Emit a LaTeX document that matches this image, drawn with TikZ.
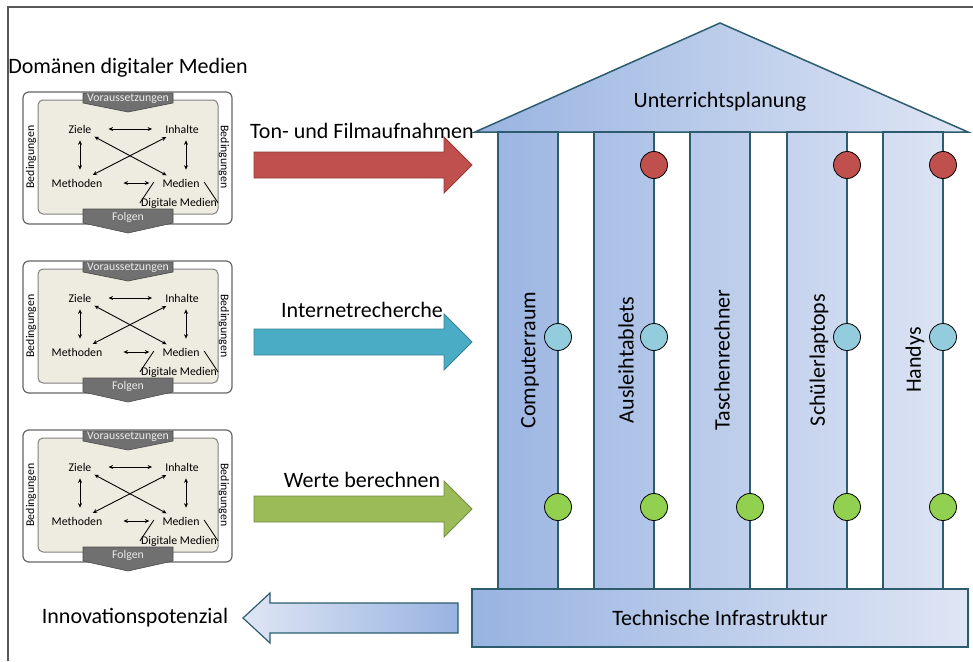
\documentclass[tikz,border=0pt]{standalone}
\usepackage{fontspec}
\setmainfont{Carlito}
\usetikzlibrary{arrows.meta, positioning, calc}
\definecolor{templeL}{RGB}{152,179,225}
\definecolor{templeR}{RGB}{223,230,244}
\definecolor{templeLine}{RGB}{45,92,110}
\definecolor{arrRed}{RGB}{192,80,77}
\definecolor{arrBlue}{RGB}{75,172,198}
\definecolor{arrGreen}{RGB}{155,187,89}
\definecolor{dotRed}{RGB}{192,80,77}
\definecolor{dotBlue}{RGB}{147,205,221}
\definecolor{dotGreen}{RGB}{146,208,80}
\definecolor{boxFill}{RGB}{238,236,225}
\definecolor{bannerGray}{RGB}{112,112,112}
\tikzstyle{rel}=[{Stealth[length=4.5pt,width=4pt]}-{Stealth[length=4.5pt,width=4pt]}, line width=0.9pt]
\tikzstyle{small}=[font=\fontsize{11.8}{14}\selectfont, inner sep=1pt]
\tikzstyle{big}=[font=\fontsize{22}{26}\selectfont]
\tikzstyle{banner}=[fill=bannerGray, draw=black!70, line width=0.6pt]
\tikzstyle{dot}=[circle, draw=black, line width=0.8pt, minimum size=27pt, inner sep=0pt]
\tikzstyle{temple}=[draw=templeLine, line width=1.5pt]
\tikzstyle{flow}=[line width=0.8pt]

\begin{document}
\begin{tikzpicture}[x=1pt, y=-1pt]
  \useasboundingbox (0,0) rectangle (973,661);
  \draw[black!65, line width=1.5pt] (8,661) -- (8,7) -- (973,7);

  % Domaenen
  \node[big] (dom) at (128,68) {Domänen digitaler Medien};
  \foreach \i/\dy in {1/0, 2/169, 3/338}{
    \begin{scope}[shift={(0,\dy)}]
      \draw[black!60, line width=1.2pt, rounded corners=6pt] (23,92) rectangle (232,224);
      \draw[black!50, fill=boxFill, line width=1pt, rounded corners=5pt] (38,100) rectangle (218,214);
      \draw[banner] (83,93) -- (173,93) -- (173,103) -- (128,112) -- (83,103) -- cycle;
      \draw[banner] (83,209) -- (173,209) -- (173,223) -- (128,233) -- (83,223) -- cycle;
      \node[small, text=white!92!black] (vor\i) at (128,99) {Voraussetzungen};
      \node[small, text=white!92!black] (fol\i) at (128,217) {Folgen};
      \node[small, rotate=90] (bedl\i) at (31,157) {Bedingungen};
      \node[small, rotate=-90] (bedr\i) at (224,157) {Bedingungen};
      \node[small] (zie\i) at (80,129) {Ziele};
      \node[small] (inh\i) at (182,129) {Inhalte};
      \node[small] (met\i) at (77,183) {Methoden};
      \node[small] (med\i) at (181,183) {Medien};
      \node[small] (dig\i) at (179,203) {Digitale Medien};
      \draw[rel, shorten <=16pt, shorten >=12pt] (zie\i) -- (inh\i);
      \draw[rel, shorten <=20pt, shorten >=12pt] (met\i) -- (med\i);
      \draw[rel, shorten <=6pt, shorten >=8pt] (zie\i.south) -- (zie\i.south |- met\i.north);
      \draw[rel, shorten <=6pt, shorten >=8pt] ([xshift=4pt]inh\i.south) -- ([xshift=4pt]inh\i.south |- med\i.north);
      \draw[rel, shorten <=5pt, shorten >=5pt] (zie\i) -- (med\i);
      \draw[rel, shorten <=6pt, shorten >=6pt] (inh\i) -- (met\i);
      \draw[line width=0.8pt] (dig\i.west) -- ++(14,-21);
      \draw[line width=0.8pt] (dig\i.east) -- ++(-14,-21);
    \end{scope}
  }

  % Pfeile
  \foreach \yc/\ly/\col/\lab [count=\k] in {165/131/arrRed/Ton- und Filmaufnahmen,
      342/310/arrBlue/Internetrecherche, 509/480/arrGreen/Werte berechnen}{
    \draw[flow, draw=\col!75!black, fill=\col] (254,\yc-13) -- (444,\yc-13) -- (444,\yc-28)
      -- (472,\yc) -- (444,\yc+28) -- (444,\yc+13) -- (254,\yc+13) -- cycle;
    \node[big] (lab\k) at (362,\ly) {\lab};
  }

  % Tempel
  \begin{scope}
    \clip (475,132) -- (720,23) -- (968,132) -- cycle
      \foreach \x in {498,594,690,787,883}{ (\x,132) rectangle ++(60,457) }
      (472,589) rectangle (968,647);
    \shade[left color=templeL, right color=templeR] (470,20) rectangle (970,650);
  \end{scope}
  \foreach \x/\lab [count=\k] in {498/Computerraum, 594/Ausleihtablets, 690/Taschenrechner,
      787/Schülerlaptops, 883/Handys}{
    \draw[temple] (\x,132) rectangle ++(60,457);
    \node[big, rotate=90] (col\k) at (\x+32,360) {\lab};
  }
  \draw[temple, line join=miter] (475,132) -- (720,23) -- (968,132) -- cycle;
  \node[big] (plan) at (720,102) {Unterrichtsplanung};
  \node[big, draw=templeLine, line width=2pt, minimum width=496pt, minimum height=58pt]
    (infra) at (720,618) {Technische Infrastruktur};

  \foreach \x [count=\k] in {654,847,943}
    \node[dot, fill=dotRed] (r\k) at (\x,165) {};
  \foreach \x [count=\k] in {558,654,847,943}
    \node[dot, fill=dotBlue] (b\k) at (\x,337) {};
  \foreach \x [count=\k] in {558,654,750,847,943}
    \node[dot, fill=dotGreen] (g\k) at (\x,507) {};

  % Innovationspotenzial
  \draw[templeLine, line width=1.2pt, left color=templeR, right color=templeL]
    (458,603) -- (458,633) -- (270,633) -- (270,643) -- (243,618) -- (270,593)
    -- (270,603) -- cycle;
  \node[big] (inno) at (135,618) {Innovationspotenzial};
\end{tikzpicture}
\end{document}
